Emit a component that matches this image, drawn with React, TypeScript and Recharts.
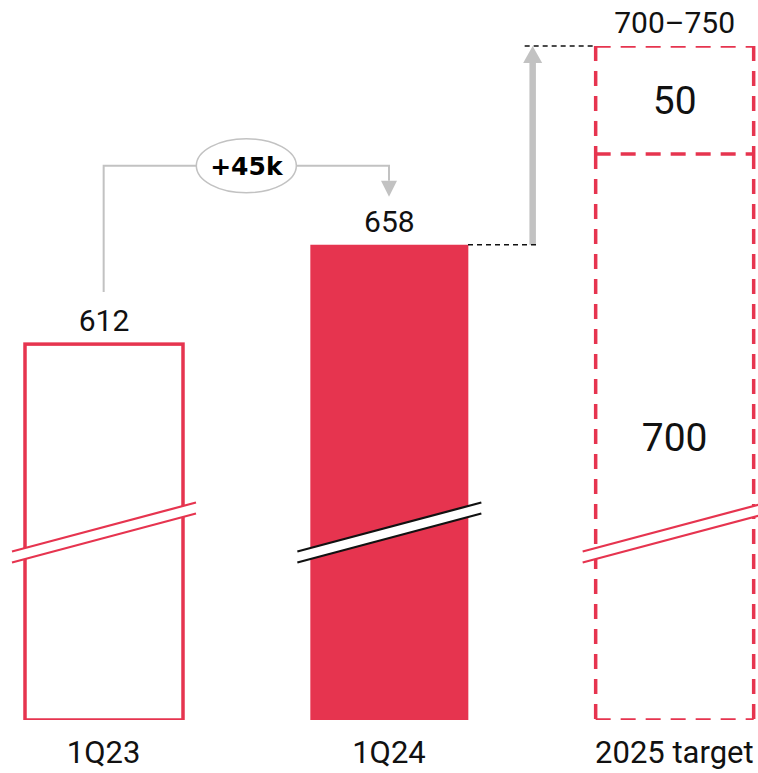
import { BarChart, Bar, XAxis, YAxis, LabelList, ReferenceLine } from 'recharts'

const categories = ['1Q23', '1Q24', '2025 target']
const baseValues = [612, 658, 700]
const rangeValues = [0, 0, 50]
const growthLabel = '+45k'

const RED = '#e6344f'
const GREY = '#c2c2c2'
const INK = '#111'
const FONT = '"Liberation Sans Narrow", Roboto, sans-serif'
const BAR_SIZE = 158

const data = categories.map((name, i) => ({
  name,
  base: baseValues[i],
  range: rangeValues[i],
}))

// axis break drawn across each bar: white band between two slanted strokes
function AxisBreak({ x, width, bottom, color }: any) {
  const lx = x - 13
  const rx = x + width + 13
  const cx = x + width / 2
  const slope = 0.266
  const upper = bottom - 193
  const gap = 11
  const yl = upper + slope * (cx - lx)
  const yr = upper - slope * (rx - cx)
  return (
    <g>
      <polygon points={`${lx},${yl} ${rx},${yr} ${rx},${yr + gap} ${lx},${yl + gap}`} fill="#fff" />
      <line x1={lx} y1={yl} x2={rx} y2={yr} stroke={color} strokeWidth={2.2} />
      <line x1={lx} y1={yl + gap} x2={rx} y2={yr + gap} stroke={color} strokeWidth={2.2} />
    </g>
  )
}

function BaseShape(props: any) {
  const { x, y, width, height, index } = props
  const bottom = y + height
  let body
  if (index === 0) {
    body = <rect x={x} y={y} width={width} height={height} fill="#fff" stroke={RED} strokeWidth={3.5} />
  } else if (index === 1) {
    body = <rect x={x} y={y} width={width} height={height} fill={RED} />
  } else {
    body = (
      <g stroke={RED} strokeWidth={3.5} strokeDasharray="15 10" fill="none">
        <line x1={x} y1={y} x2={x} y2={bottom} />
        <line x1={x + width} y1={y} x2={x + width} y2={bottom} />
        <line x1={x} y1={bottom} x2={x + width} y2={bottom} />
      </g>
    )
  }
  return (
    <g>
      {body}
      <AxisBreak x={x} width={width} bottom={bottom} color={index === 1 ? INK : RED} />
    </g>
  )
}

function RangeShape(props: any) {
  const { x, y, width, height, index } = props
  if (index !== 2 || !height) return null
  const bottom = y + height
  return (
    <g stroke={RED} strokeWidth={3.5} strokeDasharray="15 10" fill="none">
      <line x1={x} y1={y} x2={x + width} y2={y} />
      <line x1={x} y1={y} x2={x} y2={bottom} />
      <line x1={x + width} y1={y} x2={x + width} y2={bottom} />
      <line x1={x} y1={bottom} x2={x + width} y2={bottom} />
    </g>
  )
}

function BaseLabel(props: any) {
  const vb = props.viewBox ?? props
  const { x, y, width, height } = vb
  const index = props.index
  const value = baseValues[index]
  if (index === 2) {
    return (
      <text x={x + width / 2} y={y + height / 2} dy={14} textAnchor="middle" fontSize={39} fill={INK} fontFamily={FONT}>
        {value}
      </text>
    )
  }
  return (
    <text x={x + width / 2} y={y - 13} textAnchor="middle" fontSize={30} fill={INK} fontFamily={FONT}>
      {value}
    </text>
  )
}

function RangeLabel(props: any) {
  const vb = props.viewBox ?? props
  const { x, y, width, height } = vb
  const index = props.index
  if (index !== 2) return null
  const lo = baseValues[index]
  const hi = lo + rangeValues[index]
  return (
    <g fontFamily={FONT} fill={INK} textAnchor="middle">
      <text x={x + width / 2} y={y + height / 2} dy={14} fontSize={39}>
        {rangeValues[index]}
      </text>
      <text x={x + width / 2} y={y - 13} fontSize={30}>
        {`${lo}–${hi}`}
      </text>
    </g>
  )
}

// bracket from 1Q23 to 1Q24 with the growth bubble
function GrowthBracket(props: any) {
  const { x1, y1, x2, y2 } = props
  const level = y2 - 79
  const mid = (x1 + x2) / 2
  return (
    <g>
      <polyline
        points={`${x1},${y1 - 52} ${x1},${level} ${x2},${level} ${x2},${y2 - 64}`}
        fill="none"
        stroke={GREY}
        strokeWidth={2}
      />
      <polygon points={`${x2 - 8},${y2 - 64} ${x2 + 8},${y2 - 64} ${x2},${y2 - 48}`} fill={GREY} />
      <ellipse cx={mid} cy={level} rx={50} ry={27} fill="#fff" stroke={GREY} strokeWidth={1.5} />
      <text
        x={mid}
        y={level}
        dy={9.5}
        textAnchor="middle"
        fontSize={25}
        fontWeight="bold"
        fontFamily="'DejaVu Sans', sans-serif"
        fill="#000"
      >
        {growthLabel}
      </text>
    </g>
  )
}

// arrow from 1Q24 up to the top of the 2025 range
function TargetArrow(props: any) {
  const { x1, y1, x2, y2 } = props
  const half = BAR_SIZE / 2
  const ax = (x1 + x2) / 2 + 1
  return (
    <g>
      <line x1={ax} y1={y1} x2={ax} y2={y2 + 16} stroke={GREY} strokeWidth={6.5} />
      <polygon points={`${ax - 9.5},${y2 + 17} ${ax + 9.5},${y2 + 17} ${ax},${y2}`} fill={GREY} />
      <line x1={x1 + half} y1={y1} x2={ax + 7} y2={y1} stroke={INK} strokeWidth={1.5} strokeDasharray="5 4" />
      <line x1={ax - 8} y1={y2} x2={x2 - half} y2={y2} stroke={INK} strokeWidth={1.5} strokeDasharray="5 4" />
    </g>
  )
}

function CategoryTick(props: any) {
  const { x, y, payload } = props
  return (
    <text x={x} y={y} dy={43} textAnchor="middle" fontSize={31} fill={INK} fontFamily={FONT}>
      {payload.value}
    </text>
  )
}

export default function App() {
  return (
    <div style={{ position: 'absolute', left: 0, top: 0, width: 758, height: 773, overflow: 'hidden', background: '#fff' }}>
      <div style={{ position: 'absolute', left: -39, top: 0 }}>
        <BarChart width={856} height={773} data={data} margin={{ top: 46, right: 0, bottom: 0, left: 0 }}>
          <XAxis
            dataKey="name"
            axisLine={false}
            tickLine={false}
            tickSize={0}
            tickMargin={0}
            height={53}
            interval={0}
            tick={<CategoryTick />}
          />
          <YAxis hide domain={[438, 750]} allowDataOverflow />
          <Bar dataKey="base" stackId="a" barSize={BAR_SIZE} shape={<BaseShape />} isAnimationActive={false}>
            <LabelList content={<BaseLabel />} />
          </Bar>
          <Bar dataKey="range" stackId="a" barSize={BAR_SIZE} shape={<RangeShape />} isAnimationActive={false}>
            <LabelList content={<RangeLabel />} />
          </Bar>
          <ReferenceLine
            segment={[
              { x: categories[0], y: baseValues[0] },
              { x: categories[1], y: baseValues[1] },
            ]}
            ifOverflow="visible"
            shape={<GrowthBracket />}
          />
          <ReferenceLine
            segment={[
              { x: categories[1], y: baseValues[1] },
              { x: categories[2], y: baseValues[2] + rangeValues[2] },
            ]}
            ifOverflow="visible"
            shape={<TargetArrow />}
          />
        </BarChart>
      </div>
    </div>
  )
}
